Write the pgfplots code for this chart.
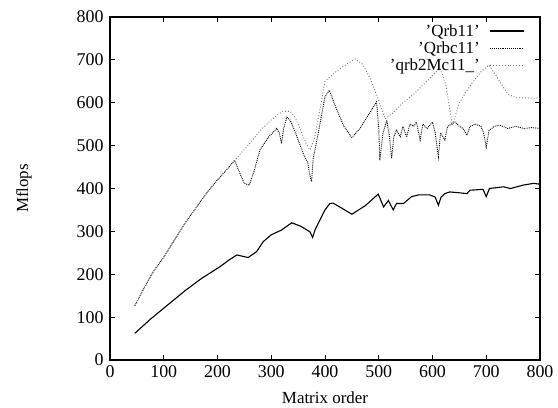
\documentclass[border=0pt]{standalone}
\usepackage{fontspec}
\setmainfont{Liberation Serif}
\usepackage{pgfplots}
\pgfplotsset{compat=1.18}
\usetikzlibrary{calc}

\begin{document}
\begin{tikzpicture}
\begin{axis}[
  name=ax,
  scale only axis, width=430bp, height=343bp,
  xmin=0, xmax=800, ymin=0, ymax=800,
  xtick={0,100,...,800}, ytick={0,100,...,800},
  tick pos=both, tick align=inside, major tick length=5bp,
  axis line style={line width=1.2pt},
  every tick/.style={line width=0.8pt, black},
  /pgf/number format/assume math mode=true,
  tick label style={font=\fontsize{18}{20}\selectfont},
  xticklabel style={yshift=-2bp},
  yticklabel style={xshift=-3bp},
  xlabel={Matrix order}, ylabel={Mflops},
  label style={font=\fontsize{17}{19}\selectfont},
  xlabel style={at={(axis description cs:0.5,-0.11)}, anchor=center},
  ylabel style={at={(axis description cs:-0.2,0.5)}, anchor=center},
  legend style={draw=none, fill=none, at={(0.965,0.985)}, anchor=north east,
    font=\fontsize{17}{18}\selectfont, row sep=0bp, inner sep=0pt},
  legend cell align=right, legend plot pos=right,
  legend image code/.code={\path (0bp,0bp); \draw[#1] (8bp,0bp) -- (42bp,0bp);},
]
\addplot[black, line width=1.1pt] coordinates {
 (46,62) (75,95) (105,126) (140,162) (170,190) (205,218) (220,232) (236,245)
 (257,239) (273,253) (285,276) (300,292) (319,303) (338,320) (355,312) (372,299)
 (377,286) (382,305) (388,320) (400,350) (409,365) (415,366) (430,355) (450,340)
 (475,360) (499,387) (509,357) (518,372) (527,350) (533,365) (546,365) (561,381)
 (574,385) (595,385) (605,380) (611,361) (616,380) (623,388) (632,392) (650,390)
 (664,388) (670,396) (694,398) (700,381) (706,400) (732,404) (745,400) (769,408)
 (788,412) (800,410)
};
\addplot[black, line width=0.9pt, densely dotted] coordinates {
 (46,126) (60,160) (80,205) (100,240) (120,280) (140,320) (160,355) (180,390)
 (200,420) (220,448) (232,466) (240,440) (250,412) (259,408) (268,440) (279,490)
 (295,520) (310,540) (315,530) (319,505) (323,540) (329,566) (335,560) (345,530)
 (360,480) (368,460) (372,430) (375,416) (378,470) (385,513) (392,560) (400,614)
 (408,629) (420,590) (435,545) (450,519) (465,540) (480,570) (496,602) (500,540)
 (502,466) (508,530) (515,559) (520,520) (524,470) (528,520) (533,536) (540,521)
 (545,545) (552,520) (558,550) (565,545) (570,555) (577,513) (582,550) (590,540)
 (600,555) (605,530) (611,474) (615,530) (623,513) (628,545) (635,550) (642,555)
 (650,545) (657,540) (664,524) (670,545) (680,550) (690,545) (695,530) (700,497)
 (705,535) (715,545) (725,548) (740,540) (755,545) (770,540) (785,542) (800,540)
};
\addplot[black!55, line width=0.9pt, dotted] coordinates {
 (46,126) (60,160) (80,205) (100,240) (120,280) (140,320) (160,355) (180,390)
 (200,420) (220,448) (232,466) (260,505) (280,536) (300,560) (315,575) (322,580)
 (335,580) (345,565) (355,535) (365,505) (372,490) (380,515) (390,580) (400,650)
 (420,672) (440,690) (456,702) (470,690) (485,655) (500,605) (512,562) (525,575)
 (545,600) (565,620) (585,645) (605,670) (615,680) (625,640) (637,548) (650,600)
 (670,640) (690,672) (705,688) (720,660) (740,620) (755,612) (800,610)
};
\legend{'Qrb11', 'Qrbc11', 'qrb2Mc11\_'}
\end{axis}
\path ($(ax.south west)+(-110bp,-48bp)$) rectangle ++(558bp,408bp);
\end{tikzpicture}
\end{document}
